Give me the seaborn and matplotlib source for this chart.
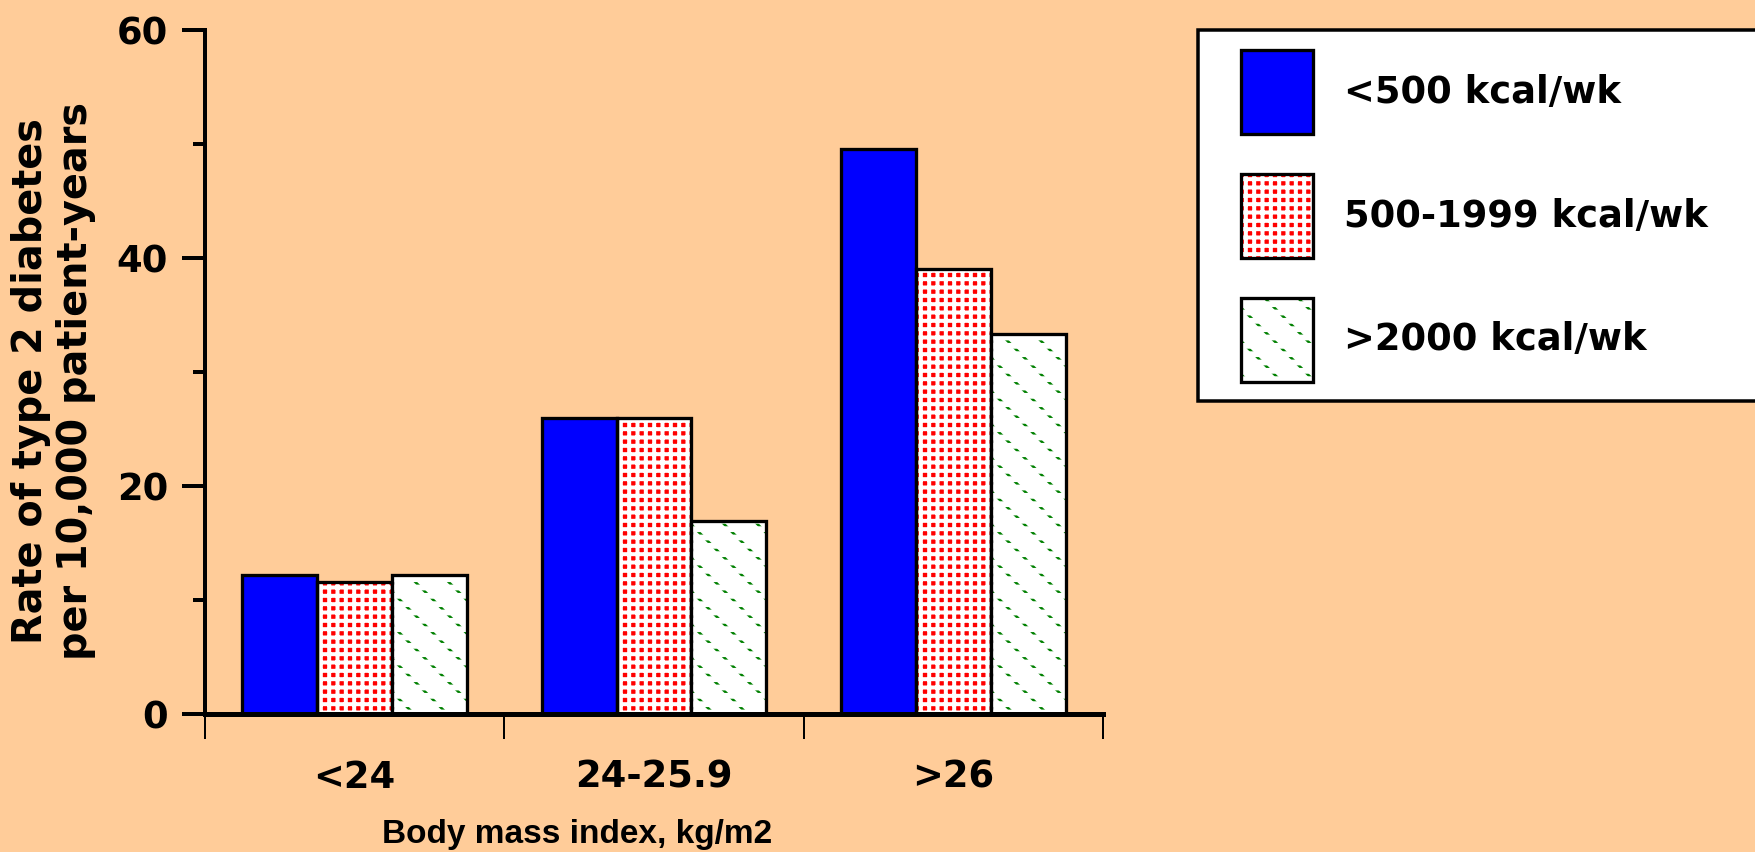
import matplotlib
matplotlib.use("Agg")
import matplotlib.pyplot as plt
import pandas as pd
import seaborn as sns
from matplotlib.legend_handler import HandlerTuple
from matplotlib.patches import Rectangle
from matplotlib.ticker import FixedLocator, MultipleLocator

# rate of type 2 diabetes per 10,000 patient-years, by BMI and weekly activity
bmi_groups = ["<24", "24-25.9", ">26"]
activity_levels = ["<500 kcal/wk", "500-1999 kcal/wk", ">2000 kcal/wk"]
rate_under_500 = [12.2, 26.0, 49.6]
rate_500_1999 = [11.6, 26.0, 39.0]
rate_over_2000 = [12.2, 16.9, 33.3]

bar_colors = ["#0000ff", "#ff0000", "#ffffff"]
bg = "#ffcc99"

DPI = 200
W, H = 1756, 852

# hatch line widths in pixels, keyed by hatch pattern
HATCH_LW = {"++++": 4.0, "\\\\": 2.6, "----": 5.8}


def px(n):
    """pixels -> points at the output dpi"""
    return n * 72 / DPI


sns.set_theme(style="ticks", rc={
    "axes.edgecolor": "black",
    "xtick.color": "black",
    "ytick.color": "black",
    "text.color": "black",
    "axes.labelcolor": "black",
})
plt.rcParams["font.family"] = ["DejaVu Sans"]
plt.rcParams["font.weight"] = "bold"
plt.rcParams["axes.labelweight"] = "bold"

df = pd.DataFrame({
    "bmi": bmi_groups * 3,
    "activity": [lvl for lvl in activity_levels for _ in bmi_groups],
    "rate": rate_under_500 + rate_500_1999 + rate_over_2000,
})

fig = plt.figure(figsize=(W / DPI, H / DPI), dpi=DPI, facecolor=bg)
ax = fig.add_axes([205 / W, 138 / H, 898 / W, 684 / H])
ax.set_facecolor(bg)

sns.barplot(data=df, x="bmi", y="rate", hue="activity",
            order=bmi_groups, hue_order=activity_levels,
            palette=bar_colors, saturation=1, width=0.75, gap=0,
            errorbar=None, linewidth=0, legend=False, ax=ax)

# fill styles per activity level: (hatch, hatch colour)
fills = [
    (None, "#0000ff"),
    ("++++", "white"),      # white grid over red -> red dots
    ("\\\\", "#008000"),    # green diagonals, chopped into dots below
]


def layer(bar, **kw):
    r = Rectangle(bar.get_xy(), bar.get_width(), bar.get_height(), **kw)
    ax.add_patch(r)
    return r


legend_handles = []
for i, (container, (hatch, hcolor)) in enumerate(zip(ax.containers, fills)):
    for j, bar in enumerate(container):
        parts = [bar]
        bar.set_linewidth(0)
        if hatch:
            bar.set_hatch(hatch)
            bar.set_edgecolor(hcolor)
        if i == 2:
            parts.append(layer(bar, fill=False, hatch="----",
                               edgecolor="white", lw=0))
        parts.append(layer(bar, fill=False, edgecolor="black", lw=px(3.3)))
        if j == 0:
            legend_handles.append(tuple(parts))

ax.set_ylim(0, 60)
ax.set_xlim(-0.5, 2.5)
ax.yaxis.set_major_locator(MultipleLocator(20))
ax.yaxis.set_minor_locator(MultipleLocator(10))
ax.xaxis.set_minor_locator(FixedLocator([-0.5, 0.5, 1.5, 2.5]))
ax.tick_params(labelsize=13.3)
ax.tick_params(axis="x", which="major", length=0, pad=px(45))
ax.tick_params(axis="x", which="minor", length=px(25), width=px(2))
ax.tick_params(axis="y", which="major", length=px(23), width=px(4), pad=px(14))
ax.tick_params(axis="y", which="minor", length=px(12), width=px(4))
sns.despine(ax=ax)
ax.spines["left"].set_linewidth(px(4))
ax.spines["bottom"].set_linewidth(px(5))

ax.set_ylabel("Rate of type 2 diabetes\nper 10,000 patient-years",
              fontsize=14.3, linespacing=1.18)
ax.yaxis.set_label_coords(-0.121, 0.487)
ax.set_xlabel("Body mass index, kg/m2", fontsize=12,
              family=["Liberation Sans", "DejaVu Sans"])
ax.xaxis.set_label_coords(0.414, -0.154)

# legend box runs off the right edge like in the original
fig.add_artist(Rectangle((1198 / W, 1 - 401 / H), 0.4, 371 / H,
                         transform=fig.transFigure, facecolor="white",
                         edgecolor="black", lw=px(3.5), zorder=1))
fig.legend(legend_handles, activity_levels, loc="upper left",
           bbox_to_anchor=(1241 / W, 1 - 50 / H), bbox_transform=fig.transFigure,
           frameon=False, borderpad=0, borderaxespad=0,
           handlelength=1.95, handleheight=3.12, labelspacing=1.08,
           handletextpad=0.84, prop={"weight": "bold", "size": 13.3},
           handler_map={tuple: HandlerTuple(ndivide=1, pad=0)})

# hatch widths for bars and the legend copies alike
for patch in fig.findobj(Rectangle):
    lw = HATCH_LW.get(patch.get_hatch())
    if lw is not None and hasattr(patch, "set_hatch_linewidth"):
        patch.set_hatch_linewidth(px(lw))

fig.savefig("out.png", dpi=DPI, facecolor=bg)
